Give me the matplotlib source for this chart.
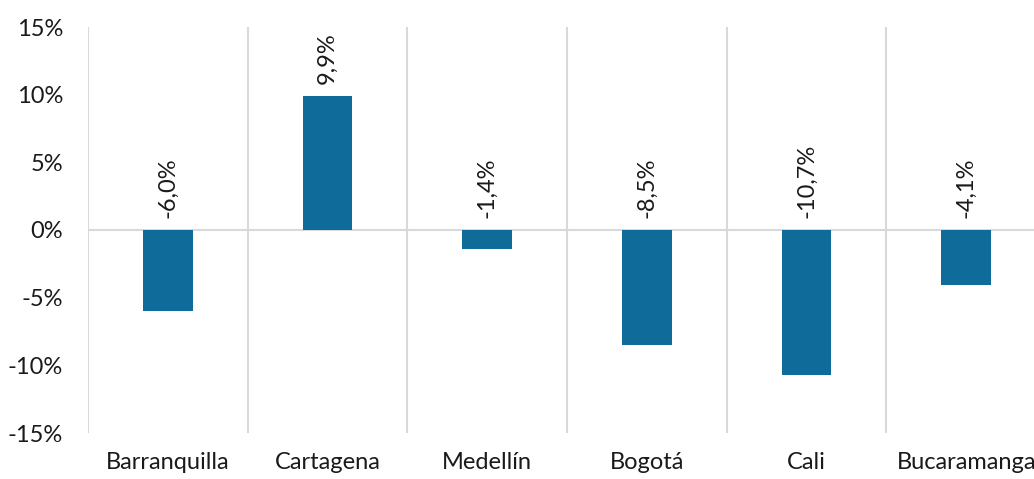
import matplotlib
matplotlib.use("Agg")
import matplotlib.pyplot as plt
import numpy as np

# data
ciudades = ["Barranquilla", "Cartagena", "Medellín", "Bogotá", "Cali", "Bucaramanga"]
variacion = [-6.0, 9.9, -1.4, -8.5, -10.7, -4.1]
yticks = [-15, -10, -5, 0, 5, 10, 15]

plt.rcParams['font.family'] = ['Lato', 'DejaVu Sans']

fig = plt.figure(figsize=(10.34, 4.79), dpi=100)
# axes goes a bit past the right edge, like the original
ax = fig.add_axes([88/1034, 46/479, 958/1034, 406/479])

x = np.arange(len(ciudades))
ax.bar(x, variacion, width=0.31, color="#0f6b99", zorder=3)

# category separators + zero line
for b in np.arange(-0.5, len(ciudades), 1.0):
    ax.axvline(b, color="#d9d9d9", lw=1.5, zorder=1)
ax.axhline(0, color="#d9d9d9", lw=1.5, zorder=2)

txt = "#1a1a1a"
for xi, v in zip(x, variacion):
    ax.annotate(f"{v:.1f}%".replace(".", ","), (xi, max(v, 0)),
                xytext=(0, 9), textcoords="offset points",
                rotation=90, ha="center", va="bottom", fontsize=17,
                color=txt)

ax.set_xlim(-0.5, len(ciudades) - 0.5)
ax.set_ylim(-15, 15)
ax.set_yticks(yticks)
ax.set_yticklabels([f"{t}%" for t in yticks])
ax.set_xticks(x)
ax.set_xticklabels(ciudades)
ax.tick_params(axis="y", length=0, pad=18, labelsize=17, labelcolor=txt)
ax.tick_params(axis="x", length=0, pad=14, labelsize=17, labelcolor=txt)
for s in ax.spines.values():
    s.set_visible(False)

fig.savefig("out.png", dpi=100)
